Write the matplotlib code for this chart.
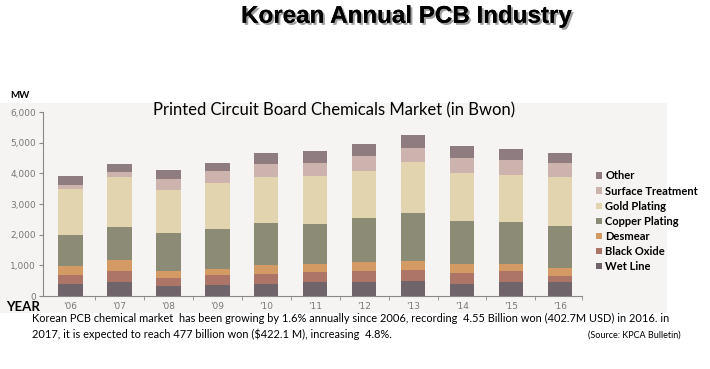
import numpy as np
import matplotlib
matplotlib.use("Agg")
import matplotlib.pyplot as plt
import matplotlib.patheffects as pe
from matplotlib.patches import Rectangle

# values (in Bwon, shown as "MW" on the axis)
years = ["'06", "'07", "'08", "'09", "'10", "'11", "'12", "'13", "'14", "'15", "'16"]
wet_line = [380, 450, 330, 370, 400, 460, 460, 490, 400, 450, 460]
black_oxide = [310, 350, 270, 300, 320, 310, 350, 350, 360, 350, 200]
desmear = [300, 370, 210, 220, 280, 280, 310, 300, 280, 230, 250]
copper_plating = [1000, 1080, 1250, 1300, 1380, 1310, 1420, 1560, 1390, 1380, 1380]
gold_plating = [1500, 1630, 1390, 1480, 1490, 1540, 1540, 1660, 1590, 1540, 1590]
surface_treatment = [140, 160, 360, 420, 450, 450, 470, 460, 480, 500, 470]
other = [290, 270, 290, 260, 360, 370, 400, 430, 380, 330, 320]

series = [
    ("Wet Line", wet_line, "#6f646a"),
    ("Black Oxide", black_oxide, "#ad7567"),
    ("Desmear", desmear, "#d39a63"),
    ("Copper Plating", copper_plating, "#8c8b76"),
    ("Gold Plating", gold_plating, "#e2d4ae"),
    ("Surface Treatment", surface_treatment, "#cdb3ae"),
    ("Other", other, "#8f7c80"),
]

fig = plt.figure(figsize=(7.1, 3.69), dpi=100)
fig.patch.set_facecolor("white")

# light grey "scan" background behind the chart
fig.patches.append(Rectangle((0, 0.152), 0.939, 0.569, transform=fig.transFigure,
                             facecolor="#f6f4f2", edgecolor="none", zorder=-10))

ax = fig.add_axes([0.0606, 0.1978, 0.759, 0.4986])
ax.set_facecolor("none")

x = np.arange(len(years))
bottom = np.zeros(len(years))
handles = []
for name, vals, col in series:
    b = ax.bar(x, vals, 0.5, bottom=bottom, color=col, label=name)
    handles.append(b)
    bottom += np.array(vals)

ax.set_ylim(0, 6000)
ax.set_xlim(-0.56, 10.45)
ax.set_yticks(range(0, 6001, 1000))
ax.set_yticklabels(["0", "1,000", "2,000", "3,000", "4,000", "5,000", "6,000"])
ax.set_xticks(x)
ax.set_xticklabels(years)
ax.set_xticks(list(np.arange(0.5, 10, 1)) + [10.45], minor=True)
ax.tick_params(axis="x", which="major", length=0, labelsize=6.5, labelcolor="#777777", pad=4)
ax.tick_params(axis="x", which="minor", length=3, color="#888888", direction="out")
ax.tick_params(axis="y", length=3, color="#888888", labelsize=6.5, labelcolor="#777777", pad=2)

for s in ["top", "right"]:
    ax.spines[s].set_visible(False)
for s in ["left", "bottom"]:
    ax.spines[s].set_color("#888888")
    ax.spines[s].set_linewidth(0.8)

fig.text(0.572, 0.956, "Korean Annual PCB Industry", ha="center", va="center",
         fontsize=17.4, fontweight="bold", family="Liberation Sans",
         path_effects=[pe.withSimplePatchShadow(offset=(1.5, -1.5), shadow_rgbFace="#777777", alpha=0.7),
                       pe.Normal()])
fig.text(0.470, 0.702, "Printed Circuit Board Chemicals Market (in Bwon)", ha="center", va="center",
         fontsize=12, family="Lato")
fig.text(0.028, 0.740, "MW", ha="center", va="center", fontsize=7, fontweight="bold", family="Lato")
fig.text(0.033, 0.167, "YEAR", ha="center", va="center", fontsize=9.5, fontweight="bold", family="Lato")

fig.legend(handles[::-1], [s[0] for s in series][::-1], loc="upper left",
           bbox_to_anchor=(0.840, 0.538), frameon=False, handlelength=0.5, handleheight=0.5,
           handletextpad=0.3, labelspacing=0.37, borderpad=0, borderaxespad=0,
           prop={"family": "Lato", "weight": "bold", "size": 8})

fig.text(0.045, 0.138, "Korean PCB chemical market  has been growing by 1.6% annually since 2006, recording  "
         "4.55 Billion won (402.7M USD) in 2016. in", ha="left", va="center", fontsize=7.95, family="Lato")
fig.text(0.045, 0.095, "2017, it is expected to reach 477 billion won ($422.1 M), increasing  4.8%.",
         ha="left", va="center", fontsize=7.95, family="Lato")
fig.text(0.958, 0.092, "(Source: KPCA Bulletin)", ha="right", va="center", fontsize=6.5, family="Lato")

fig.savefig("out.png", dpi=100)
